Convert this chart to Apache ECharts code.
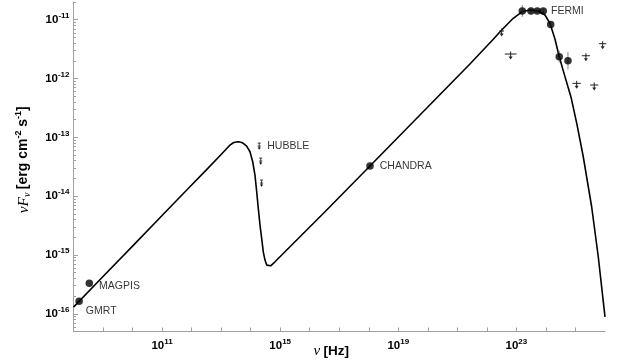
<!DOCTYPE html>
<html>
<head>
<meta charset="utf-8">
<script src="https://cdn.jsdelivr.net/npm/echarts@6/dist/echarts.min.js"></script>
<style>
  html, body { margin: 0; padding: 0; background: #fff; }
  #chart { width: 623px; height: 363px; }
</style>
</head>
<body>
<div id="chart"></div>
<script>
// Broad-band SED: two-hump emission model plus radio, optical, X-ray and gamma-ray data.

const SANS = '"Liberation Sans", Arial, Helvetica, sans-serif';
const SERIF = '"Liberation Serif", "Times New Roman", serif';

// Model curve, log10(nu / Hz) and log10(nuF_nu / erg cm^-2 s^-1)
const modelLogNu = [
  8.0, 9.0, 10.0, 11.0, 12.0, 12.5, 13.0, 13.30, 13.411, 13.50, 13.581, 13.67, 13.75, 13.865,
  13.977, 14.069, 14.146, 14.204, 14.258, 14.316, 14.373, 14.427, 14.485, 14.543,
  14.597, 14.678, 14.824, 14.993, 16.517, 18.04, 19.733, 21.426, 22.216, 22.50,
  22.893, 23.198, 23.459, 23.74, 23.967, 24.136, 24.305, 24.451, 24.587, 24.857, 25.05,
  25.264, 25.548, 25.772, 26.0
];
const modelLogFlux = [
  -15.886, -15.367, -14.849, -14.330, -13.81, -13.553, -13.292, -13.131, -13.092, -13.078, -13.075, -13.083, -13.102, -13.148,
  -13.245, -13.415, -13.641, -13.925, -14.207, -14.491, -14.718, -14.946, -15.087, -15.172,
  -15.201, -15.184, -15.116, -15.031, -14.265, -13.488, -12.621, -11.753, -11.333, -11.175,
  -10.976, -10.864, -10.835, -10.852, -10.92, -11.061, -11.328, -11.629, -11.870, -12.332, -12.780,
  -13.33, -14.18, -15.03, -16.051
];

// Radio detections
const radioNames = ['GMRT', 'MAGPIS'];
const radioNu = [1.55e8, 3.43e8];
const radioFlux = [1.64e-16, 3.29e-16];

// X-ray detection
const xrayNames = ['CHANDRA'];
const xrayNu = [1.1e18];
const xrayFlux = [3.25e-14];

// Optical upper limits
const opticalNames = ['HUBBLE'];
const opticalNu = [1.95e14, 2.19e14, 2.34e14];
const opticalFlux = [7.11e-14, 3.95e-14, 1.67e-14];

// Gamma-ray detections with error bars (in dex)
const gammaNames = ['FERMI'];
const gammaNu = [1.58e23, 3.11e23, 5.08e23, 8.11e23, 1.45e24, 2.82e24, 5.57e24];
const gammaFlux = [1.41e-11, 1.41e-11, 1.41e-11, 1.41e-11, 8.28e-12, 2.35e-12, 2.01e-12];
const gammaErrDex = [0.1, 0.06, 0.04, 0.04, 0.05, 0.1, 0.15];

// Gamma-ray upper limits with energy-bin half widths (in dex)
const limitNu = [3.16e22, 6.38e22, 1.10e25, 2.26e25, 4.32e25, 8.32e25];
const limitFlux = [6.43e-12, 2.61e-12, 8.28e-13, 2.44e-12, 7.76e-13, 3.91e-12];
const limitHalfDex = [0.08, 0.2, 0.14, 0.14, 0.14, 0.12];

// Axis ranges and tick exponents
const xRange = [1e8, 1e26];
const yRange = [5e-17, 2e-11];
const xTickExps = [8, 9, 10, 11, 12, 13, 14, 15, 16, 17, 18, 19, 20, 21, 22, 23, 24, 25, 26];
const xLabelExps = [11, 15, 19, 23];
const yLabelExps = [-16, -15, -14, -13, -12, -11];

const pow10 = (e) => Math.pow(10, e);

const yMinor = [];
for (let n = -17; n <= -11; n++) {
  for (let k = 2; k <= 9; k++) {
    const v = k * pow10(n);
    if (v >= yRange[0] && v <= yRange[1]) yMinor.push(v);
  }
}

const expLabel = (v) => '{b|10}{s|' + Math.round(Math.log10(v)) + '}';
const tickRich = {
  b: { fontFamily: SANS, fontWeight: 'bold', fontSize: 11.5, color: '#000', lineHeight: 16 },
  s: { fontFamily: SANS, fontWeight: 'bold', fontSize: 8, color: '#000', lineHeight: 6, verticalAlign: 'top' }
};
const axisGrey = '#a0a0a0';

const modelData = modelLogNu.map((e, i) => [pow10(e), pow10(modelLogFlux[i])]);
const pts = (nu, f) => nu.map((v, i) => [v, f[i]]);

const chart = echarts.init(document.getElementById('chart'), null, { renderer: 'canvas' });

chart.setOption({
  animation: false,
  backgroundColor: '#fff',
  grid: { left: 73.5, right: 18, top: 2, bottom: 31.5, outerBoundsMode: 'none' },
  xAxis: {
    type: 'log', logBase: 10, min: xRange[0], max: xRange[1],
    name: '{i|ν} {b|[Hz]}',
    nameLocation: 'middle', nameGap: 12, nameMoveOverlap: false,
    nameTextStyle: {
      padding: [0, 16, 0, 0],
      rich: {
        i: { fontFamily: SERIF, fontStyle: 'italic', fontSize: 15, color: '#000', lineHeight: 16 },
        b: { fontFamily: SANS, fontWeight: 'bold', fontSize: 13.5, color: '#000', lineHeight: 16 }
      }
    },
    axisLine: { show: true, lineStyle: { color: axisGrey, width: 1 } },
    axisTick: { show: true, inside: true, length: 4, lineStyle: { color: axisGrey },
      customValues: xTickExps.map(pow10) },
    axisLabel: { customValues: xLabelExps.map(pow10), formatter: expLabel, rich: tickRich, margin: 6 },
    splitLine: { show: false }
  },
  yAxis: [{
    type: 'log', logBase: 10, min: yRange[0], max: yRange[1],
    name: '{i|νF}{sub|ν} {b|[erg cm}{sup|-2}{b| s}{sup|-1}{b|]}',
    nameLocation: 'middle', nameRotate: 90, nameGap: 41, nameMoveOverlap: false,
    nameTextStyle: {
      padding: [0, 0, 0, 14],
      rich: {
        i: { fontFamily: SERIF, fontStyle: 'italic', fontSize: 15.5, color: '#000', lineHeight: 18 },
        sub: { fontFamily: SERIF, fontStyle: 'italic', fontSize: 10, color: '#000', lineHeight: 8, verticalAlign: 'bottom' },
        b: { fontFamily: SANS, fontWeight: 'bold', fontSize: 14, color: '#000', lineHeight: 18 },
        sup: { fontFamily: SANS, fontWeight: 'bold', fontSize: 9, color: '#000', lineHeight: 8, verticalAlign: 'top' }
      }
    },
    axisLine: { show: true, lineStyle: { color: axisGrey, width: 1 } },
    axisTick: { show: true, inside: true, length: 4.5, lineStyle: { color: axisGrey },
      customValues: yLabelExps.map(pow10) },
    axisLabel: { customValues: yLabelExps.map(pow10), formatter: expLabel, rich: tickRich, margin: 4 },
    splitLine: { show: false }
  }, {
    type: 'log', logBase: 10, min: yRange[0], max: yRange[1], position: 'left',
    axisLine: { show: false },
    axisTick: { show: true, inside: true, length: 2.5, lineStyle: { color: axisGrey }, customValues: yMinor },
    axisLabel: { show: false },
    splitLine: { show: false }
  }],
  series: [
    {
      type: 'line', data: modelData, showSymbol: false, smooth: false,
      lineStyle: { color: '#000', width: 1.6, join: 'round' }, z: 2, silent: true
    },
    {
      // gamma-ray error bars
      type: 'custom', z: 3, silent: true,
      data: gammaNu.map((v, i) => [v, gammaFlux[i] / pow10(gammaErrDex[i]), gammaFlux[i] * pow10(gammaErrDex[i])]),
      renderItem: (params, api) => {
        const lo = api.coord([api.value(0), api.value(1)]);
        const hi = api.coord([api.value(0), api.value(2)]);
        return { type: 'line', shape: { x1: lo[0], y1: lo[1], x2: hi[0], y2: hi[1] },
          style: { stroke: '#888', lineWidth: 1 } };
      }
    },
    {
      type: 'scatter', data: pts(gammaNu, gammaFlux), symbol: 'circle', symbolSize: 7.5,
      itemStyle: { color: '#000' }, z: 4, silent: true,
      label: {
        show: true, position: 'right', distance: 4, color: '#000', fontFamily: SANS, fontSize: 10.5,
        formatter: (p) => (p.dataIndex === 3 ? gammaNames[0] : '')
      }
    },
    {
      type: 'scatter', data: pts(xrayNu, xrayFlux), symbol: 'circle', symbolSize: 7.5,
      itemStyle: { color: '#000' }, z: 4, silent: true,
      label: { show: true, position: 'right', distance: 6, color: '#000', fontFamily: SANS, fontSize: 10.5,
        formatter: (p) => xrayNames[p.dataIndex] }
    },
    {
      type: 'scatter', data: pts(radioNu, radioFlux), symbol: 'circle', symbolSize: 7.5,
      itemStyle: { color: '#000' }, z: 4, silent: true,
      label: { show: true, position: 'right', distance: 6, color: '#000', fontFamily: SANS, fontSize: 10.5,
        formatter: (p) => radioNames[p.dataIndex] },
      labelLayout: (p) => (p.dataIndex === 0 ? { dy: 10, dx: -3 } : { dy: 3 })
    },
    {
      // optical upper limits
      type: 'custom', z: 4, silent: true,
      data: pts(opticalNu, opticalFlux),
      renderItem: (params, api) => {
        const p = api.coord([api.value(0), api.value(1)]);
        const x = p[0], y = p[1];
        const st = { stroke: '#111', lineWidth: 0.8 };
        return { type: 'group', children: [
          { type: 'line', shape: { x1: x - 1.6, y1: y - 3, x2: x + 1.6, y2: y - 3 }, style: st },
          { type: 'line', shape: { x1: x - 1.6, y1: y, x2: x + 1.6, y2: y }, style: st },
          { type: 'line', shape: { x1: x, y1: y - 3, x2: x, y2: y + 2 }, style: st },
          { type: 'polygon', shape: { points: [[x - 1.6, y + 1.5], [x + 1.6, y + 1.5], [x, y + 3.8]] }, style: { fill: '#111' } }
        ] };
      }
    },
    {
      type: 'scatter', data: pts(opticalNu, opticalFlux).slice(0, 1), symbolSize: 0, silent: true,
      label: { show: true, position: 'right', distance: 8, color: '#000', fontFamily: SANS, fontSize: 10.5,
        formatter: () => opticalNames[0] }
    },
    {
      // gamma-ray upper limits
      type: 'custom', z: 4, silent: true,
      data: limitNu.map((v, i) => [v, limitFlux[i], v / pow10(limitHalfDex[i]), v * pow10(limitHalfDex[i])]),
      renderItem: (params, api) => {
        const p = api.coord([api.value(0), api.value(1)]);
        const l = api.coord([api.value(2), api.value(1)]);
        const r = api.coord([api.value(3), api.value(1)]);
        const x = p[0], y = p[1];
        const st = { stroke: '#222', lineWidth: 1 };
        return { type: 'group', children: [
          { type: 'line', shape: { x1: l[0], y1: y, x2: r[0], y2: y }, style: st },
          { type: 'line', shape: { x1: x, y1: y - 2.5, x2: x, y2: y + 3 }, style: st },
          { type: 'polygon', shape: { points: [[x - 2, y + 2.5], [x + 2, y + 2.5], [x, y + 5.5]] }, style: { fill: '#222' } }
        ] };
      }
    }
  ]
});
</script>
</body>
</html>
